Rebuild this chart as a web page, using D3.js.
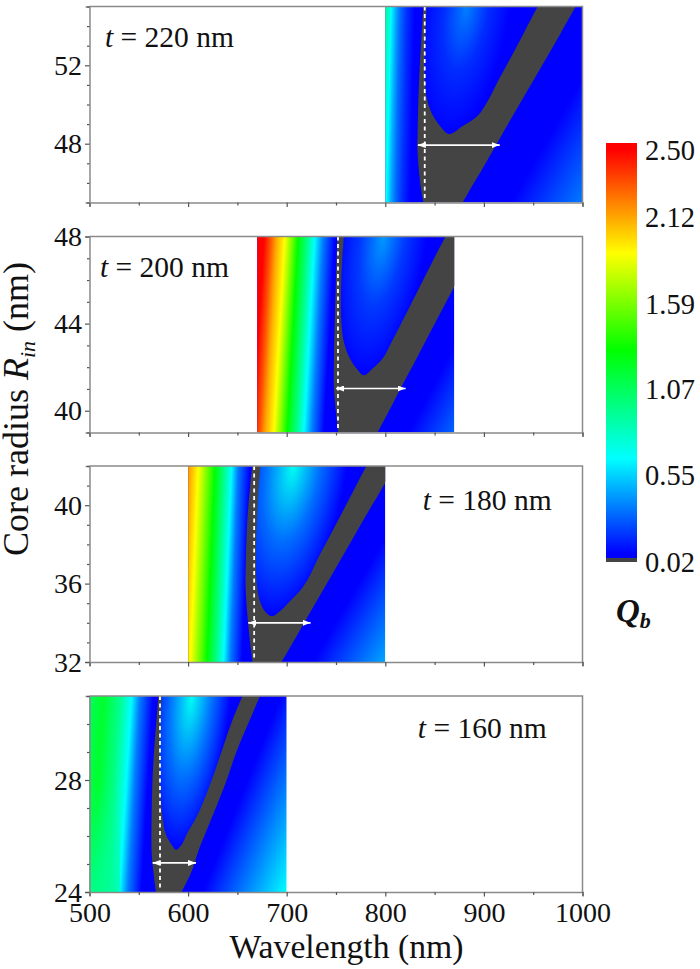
<!DOCTYPE html>
<html>
<head>
<meta charset="utf-8">
<script src="https://cdnjs.cloudflare.com/ajax/libs/d3/7.8.5/d3.min.js"></script>
<style>
  body { margin: 0; background: #fff; }
  svg { display: block; }
  text { font-family: "Liberation Serif", serif; fill: #111; }
</style>
</head>
<body>
<div id="app"></div>
<script>
// panel settings, top to bottom
const thickness = [220, 200, 180, 160];
const xMin = [800, 670, 600, 500];
const xMax = [1000, 870, 800, 700];
const yMin = [45, 39, 32, 24];
const yMax = [55, 48, 42, 31];
const yLabels = [[48, 52], [40, 44, 48], [32, 36, 40], [24, 28]];
const resonance = [840, 752, 667, 571.5];

// arrows: radius, from, to
const arrowR = [47.93, 41.02, 34, 25.04];
const arrowFrom = [833, 750, 661, 564];
const arrowTo = [916, 820.6, 724.2, 608];

// grey band (Q below 0.05), read along radius
const bandR = [
  [55, 53.6, 51.9, 50.2, 48.5, 47.8, 46.8, 45.8, 45],
  [48, 47, 45.46, 43.93, 42.4, 41.02, 39.95, 39],
  [42.02, 40.88, 39.18, 37.48, 35.78, 34.07, 33.05, 32],
  [31.01, 30.21, 29.02, 27.83, 26.64, 25.45, 24.74, 24]
];
const bandLeft = [
  [838.6, 836.9, 834.9, 833.5, 832.8, 832.5, 833.8, 835.9, 838.6],
  [751.6, 750.6, 749.6, 748.6, 747.9, 747.9, 749.9, 752.3],
  [665.1, 662.7, 660, 658.7, 658.3, 660.7, 662.7, 665.4],
  [569.8, 568.1, 565.4, 563.7, 563, 563, 564.7, 567.4]
];
const bandRight = [
  [993, 977.5, 957.9, 938.3, 918.7, 910.9, 899.4, 887.6, 878.5],
  [896.6, 884.8, 867.2, 849.3, 831.7, 815.5, 803.3, 792.2],
  [809.7, 796.9, 777, 757.7, 738.1, 718.5, 707, 694.8],
  [672.9, 663.4, 649.2, 637.4, 623.9, 610.3, 603.6, 593.4]
];

// blue V inside the band, last row is the tip
const innerR = [
  [55, 53.6, 51.9, 51.1, 50.2, 49.4, 48.9, 48.5],
  [48, 47, 45.46, 43.93, 43.16, 42.4, 41.94, 41.63],
  [42.02, 40.88, 39.18, 37.48, 35.78, 35.1, 34.59, 34.33],
  [31.01, 30.21, 29.02, 27.83, 26.64, 26.05, 25.69, 25.51]
];
const innerLeft = [
  [842, 840.6, 839.6, 840.3, 842.6, 848.7, 855.5, 864],
  [758, 756.4, 755, 755.7, 758, 764.1, 770.9, 778],
  [673.5, 671.5, 669.8, 668.8, 670.2, 672.9, 677.9, 684.7],
  [573.1, 572.1, 571.5, 571.5, 574.2, 577.5, 583.3, 587.7]
];
const innerRight = [
  [954.5, 940, 922, 913.3, 904.2, 893.3, 878.5, 864],
  [861.1, 849.6, 832.4, 815.2, 806.4, 797.3, 787.1, 778],
  [781, 769.2, 751.6, 733.7, 715.8, 703.3, 693.1, 684.7],
  [655.3, 645.8, 634, 622.2, 608, 598.5, 593.4, 587.7]
];
const innerPeak = [882.5, 798, 706.7, 603.6];
const innerWidth_ = [45, 45, 55, 40];
const innerQ = [
  [0.36, 0.17, 0.07],
  [0.42, 0.2, 0.07],
  [0.68, 0.32, 0.07],
  [0.68, 0.34, 0.07]
];

// Q across the short wave side, along the top edge
const leftNm = [
  [800, 803, 806, 811, 815, 822, 830],
  [671, 677, 684, 689.8, 698.2, 711.7, 720.2, 728.6, 737.1, 748.9],
  [600.2, 610.3, 627.2, 635.7, 644.1, 650.9, 662.7],
  [500.5, 514, 530.9, 542.7, 551.2, 564.7]
];
const leftQ = [
  [0.98, 0.8, 0.65, 0.45, 0.32, 0.18, 0.07],
  [2.5, 2.5, 2.3, 2.1, 1.9, 1.31, 1.0, 0.65, 0.35, 0.07],
  [2.15, 1.9, 1.31, 1.0, 0.65, 0.35, 0.07],
  [1.08, 1.2, 0.95, 0.65, 0.35, 0.07]
];
const leftTilt = [-5, -11, -8, -12];
// the 160 nm panel pales again towards its lower left corner
const lowerLeftQ = [null, null, null, 0.92];

// long wave side, Q at the lower right corner
const rightCornerQ = [0.35, 0.3, 0.45, 0.65];
const rightFlat = [0.4, 0.4, 0.3, 0.2];

// annotation anchors
const labelNm = [515.7, 510.6, 838, 833];
const labelR = [52.94, 46.14, 39.76, 29.5];

// colour bar
const barTicks = [0.02, 0.55, 1.07, 1.59, 2.12, 2.50];
const colorQ = [0.07, 0.65, 1.31, 1.90, 2.50];
const colorHex = ["#0000ff", "#00ffff", "#00ff00", "#ffff00", "#ff0000"];

const w = 700, h = 969;
const GREY = "#444444", AXIS = "#8a8a8a", TICK = "#555";
const plotLeft = 89.5, plotRight = 582.5;
const plotTop = [6.5, 236.5, 466, 696];
const plotH = 196;

const color = d3.scaleLinear().domain(colorQ).range(colorHex).clamp(true);
const x = d3.scaleLinear().domain([500, 1000]).range([plotLeft, plotRight]);

const svg = d3.select("#app").append("svg")
  .attr("width", w).attr("height", h).attr("viewBox", [0, 0, w, h]);
const defs = svg.append("defs");

const arrowHead = defs.append("marker")
  .attr("id", "head")
  .attr("markerUnits", "userSpaceOnUse")
  .attr("viewBox", "0 0 8 6")
  .attr("refX", 8).attr("refY", 3)
  .attr("markerWidth", 8).attr("markerHeight", 6)
  .attr("orient", "auto-start-reverse");
arrowHead.append("path").attr("d", "M0,0L8,3L0,6Z").attr("fill", "#fff");

function addStops(grad, offsets, qs) {
  grad.selectAll("stop").data(qs).join("stop")
    .attr("offset", (d, i) => offsets[i])
    .attr("stop-color", d => color(d));
}

thickness.forEach((t, k) => {
  const top = plotTop[k], bottom = top + plotH;
  const y = d3.scaleLinear().domain([yMin[k], yMax[k]]).range([bottom, top]);
  const x0 = x(xMin[k]), x1 = x(xMax[k]);

  defs.append("clipPath").attr("id", "clip" + k)
    .append("rect").attr("x", x0).attr("y", top).attr("width", x1 - x0).attr("height", plotH);

  // long wave side: isolines run along the band
  const rows = bandR[k].map((r, i) => ({ r, l: bandLeft[k][i], g: bandRight[k][i] }));
  const ax = x(bandRight[k][bandRight[k].length - 1]), ay = bottom;
  const dx = x(bandRight[k][0]) - ax;
  const len = Math.hypot(dx, plotH);
  const nx = plotH / len, ny = dx / len;
  const reach = (x1 - ax) * nx;
  const rightGrad = defs.append("linearGradient").attr("id", "right" + k)
    .attr("gradientUnits", "userSpaceOnUse")
    .attr("x1", ax).attr("y1", ay)
    .attr("x2", ax + nx * reach).attr("y2", ay + ny * reach);
  addStops(rightGrad, [0, rightFlat[k], 1], [0.07, 0.07, rightCornerQ[k]]);

  // short wave side: stripes lean a little with radius
  const lx0 = x(leftNm[k][0]), lx1 = x(leftNm[k][leftNm[k].length - 1]);
  const W = lx1 - lx0, tilt = leftTilt[k];
  const c = W * plotH / (plotH * plotH + tilt * tilt);
  const leftGrad = defs.append("linearGradient").attr("id", "left" + k)
    .attr("gradientUnits", "userSpaceOnUse")
    .attr("x1", lx0).attr("y1", top)
    .attr("x2", lx0 + plotH * c).attr("y2", top - tilt * c);
  addStops(leftGrad, leftNm[k].map(d => (x(d) - lx0) / W), leftQ[k]);

  // inside the V: bright at the top, falling off to the tip
  const peakX = x(innerPeak[k]);
  const tipX = x(innerRight[k][innerRight[k].length - 1]);
  const tipY = y(innerR[k][innerR[k].length - 1]);
  const rx = x(innerPeak[k] + innerWidth_[k]) - peakX;
  const innerGrad = defs.append("radialGradient").attr("id", "inner" + k)
    .attr("gradientUnits", "userSpaceOnUse")
    .attr("cx", 0).attr("cy", 0).attr("r", 1)
    .attr("gradientTransform", `matrix(${rx},0,${tipX - peakX},${tipY - top},${peakX},${top})`);
  addStops(innerGrad, innerQ[k].map((d, i) => i / (innerQ[k].length - 1)), innerQ[k]);

  const g = svg.append("g");
  const map = g.append("g").attr("clip-path", `url(#clip${k})`);

  map.append("rect")
    .attr("x", x0).attr("y", top).attr("width", x1 - x0).attr("height", plotH)
    .attr("fill", `url(#right${k})`);

  map.append("path").datum(rows)
    .attr("fill", `url(#left${k})`)
    .attr("d", d3.area().curve(d3.curveCatmullRom)
      .y(d => y(d.r)).x0(x0).x1(d => x(d.l)));

  if (lowerLeftQ[k] !== null) {
    const fade = defs.append("radialGradient").attr("id", "fade" + k)
      .attr("gradientUnits", "userSpaceOnUse")
      .attr("cx", x0).attr("cy", bottom).attr("r", plotH * 0.55);
    fade.append("stop").attr("offset", 0)
      .attr("stop-color", color(lowerLeftQ[k])).attr("stop-opacity", 0.85);
    fade.append("stop").attr("offset", 1)
      .attr("stop-color", color(lowerLeftQ[k])).attr("stop-opacity", 0);
    map.append("rect")
      .attr("x", x0).attr("y", top).attr("width", x(leftNm[k][2]) - x0).attr("height", plotH)
      .attr("fill", `url(#fade${k})`);
  }

  map.append("path").datum(rows)
    .attr("fill", GREY)
    .attr("d", d3.area().curve(d3.curveCatmullRom)
      .y(d => y(d.r)).x0(d => x(d.l)).x1(d => x(d.g)));

  const outline = innerR[k].map((r, i) => [innerLeft[k][i], r]);
  for (let i = innerR[k].length - 2; i >= 0; i--) outline.push([innerRight[k][i], innerR[k][i]]);
  map.append("path").datum(outline)
    .attr("fill", `url(#inner${k})`)
    .attr("d", d3.line().curve(d3.curveCatmullRom.alpha(1)).x(d => x(d[0])).y(d => y(d[1])));

  map.append("line")
    .attr("x1", x(resonance[k])).attr("x2", x(resonance[k]))
    .attr("y1", top).attr("y2", bottom - 4)
    .attr("stroke", "#fff").attr("stroke-width", 1.8).attr("stroke-dasharray", "4 3.5");

  g.append("line")
    .attr("x1", x(arrowFrom[k])).attr("x2", x(arrowTo[k]))
    .attr("y1", y(arrowR[k])).attr("y2", y(arrowR[k]))
    .attr("stroke", "#fff").attr("stroke-width", 1.7)
    .attr("marker-start", "url(#head)").attr("marker-end", "url(#head)");

  // frame and axes
  g.append("path")
    .attr("d", `M${plotLeft},${top}H${plotRight}V${bottom}`)
    .attr("fill", "none").attr("stroke", AXIS).attr("stroke-width", 1.5);

  const xAxis = g.append("g").attr("transform", `translate(0,${bottom})`)
    .call(d3.axisBottom(x)
      .tickValues(d3.range(500, 1001, 50))
      .tickSizeOuter(0).tickSize(4)
      .tickFormat(d => (k === 3 && d % 100 === 0) ? d : ""));
  const yAxis = g.append("g").attr("transform", `translate(${plotLeft},0)`)
    .call(d3.axisLeft(y)
      .tickValues(d3.range(yMin[k], yMax[k] + 1, 1))
      .tickSizeOuter(0).tickSize(4).tickPadding(3.5)
      .tickFormat(d => yLabels[k].includes(d) ? d : ""));

  [xAxis, yAxis].forEach(a => {
    a.select(".domain").attr("stroke", AXIS).attr("stroke-width", 1.5);
    a.selectAll(".tick line").attr("stroke", TICK).attr("stroke-width", 1.2);
    a.selectAll("text").attr("font-size", 28).attr("font-family", null).attr("fill", "#111");
  });
  xAxis.selectAll(".tick line").attr("y2", d => d % 100 === 0 ? 4.5 : 3);
  xAxis.selectAll("text").attr("y", 30).attr("dy", 0);
  yAxis.selectAll(".tick line").attr("x2", d => yLabels[k].includes(d) ? -4.5 : -2.5);
  yAxis.selectAll("text").attr("dy", "0.33em");

  const label = g.append("text")
    .attr("x", x(labelNm[k])).attr("y", y(labelR[k])).attr("font-size", 29.5);
  label.append("tspan").attr("font-style", "italic").text("t");
  label.append("tspan").text(` = ${t} nm`);
});

// axis titles
svg.append("text")
  .attr("x", 346.5).attr("y", 958).attr("text-anchor", "middle").attr("font-size", 33.7)
  .text("Wavelength (nm)");

const yTitle = svg.append("text")
  .attr("transform", "translate(28,409) rotate(-90)")
  .attr("text-anchor", "middle").attr("font-size", 36);
yTitle.append("tspan").text("Core radius ");
yTitle.append("tspan").attr("font-style", "italic").text("R");
yTitle.append("tspan").attr("font-style", "italic").attr("font-size", 22).attr("dy", 7).text("in");
yTitle.append("tspan").attr("dy", -7).text(" (nm)");

// colour bar
const qY = d3.scaleLinear().domain([0.02, 2.12, 2.5]).range([562, 217, 150]);
const barX = 606, barW = 31, barTop = qY(2.5) - 7;
const barGrad = defs.append("linearGradient").attr("id", "bar")
  .attr("gradientUnits", "userSpaceOnUse")
  .attr("x1", 0).attr("x2", 0).attr("y1", qY(colorQ[0])).attr("y2", qY(2.5));
addStops(barGrad, colorQ.map(d => (qY(colorQ[0]) - qY(d)) / (qY(colorQ[0]) - qY(2.5))), colorQ);

svg.append("rect")
  .attr("x", barX).attr("y", barTop).attr("width", barW).attr("height", qY(0.02) - barTop)
  .attr("fill", "url(#bar)");
svg.append("rect")
  .attr("x", barX).attr("y", qY(0.02) - 4).attr("width", barW).attr("height", 4)
  .attr("fill", GREY);

svg.append("g").selectAll("text").data(barTicks).join("text")
  .attr("x", 645).attr("y", d => qY(d)).attr("dy", "0.34em").attr("font-size", 28.5)
  .text(d => d3.format(".2f")(d));

const qLabel = svg.append("text")
  .attr("x", 616).attr("y", 622).attr("font-size", 33)
  .attr("font-weight", "bold").attr("font-style", "italic");
qLabel.append("tspan").text("Q");
qLabel.append("tspan").attr("font-size", 22).attr("dy", 6).text("b");
</script>
</body>
</html>
